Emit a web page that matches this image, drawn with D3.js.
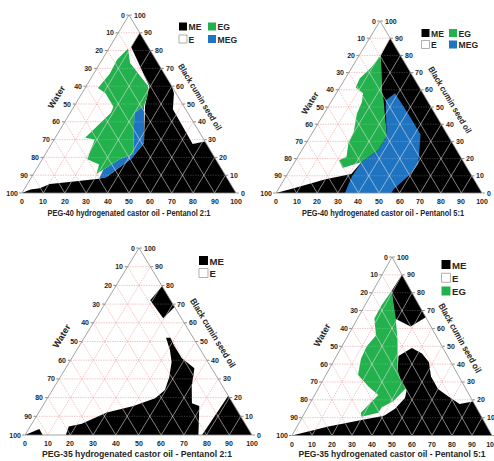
<!DOCTYPE html>
<html>
<head>
<meta charset="utf-8">
<script src="https://cdn.jsdelivr.net/npm/d3@7"></script>
<style>
  body { margin: 0; background: #fff; }
  svg { display: block; font-family: "Liberation Sans", Arial, sans-serif; }
</style>
</head>
<body>
<svg id="chart" width="494" height="461"></svg>
<script>
// every composition is [surfactant mix %, oil %]; water is whatever is left
const ticks = d3.range(0, 101, 10)
const gridSteps = d3.range(10, 100, 10)

const bottomTitles = [
  "PEG-40 hydrogenated castor oil - Pentanol 2:1",
  "PEG-40 hydrogenated castor oil - Pentanol 5:1",
  "PEG-35 hydrogenated castor oil - Pentanol 2:1",
  "PEG-35 hydrogenated castor oil - Pentanol 5:1"
]
const waterTitle = "Water"
const oilTitle = "Black cumin seed oil"

const legend1 = ["ME", "E", "EG", "MEG"]
const legend2 = ["ME", "E", "EG", "MEG"]
const legend3 = ["ME", "E"]
const legend4 = ["ME", "E", "EG"]

// panel 1 : PEG-40, 2:1
const p1ME = [[
  [0, 0], [100, 0], [71, 29], [66, 27.5], [47, 47], [43, 56], [40, 60], [10, 90],
  [10, 82], [29.5, 60], [33, 49], [43, 28], [41.5, 19.5], [35, 9], [32, 8],
  [18, 6], [10.5, 5], [7, 2.6], [3, 2]
]]
const p1MEG = [[
  [32.5, 49], [30, 45], [41, 22], [36, 19], [31.5, 13], [32, 8], [35, 9],
  [41.5, 19.5], [43, 28]
]]
const p1EG = [[
  [9, 81], [14, 73], [29, 60], [31.5, 54], [32.5, 49], [30, 45], [41, 22],
  [36, 19], [31.5, 13], [29.5, 10.7], [28, 16], [21, 19], [19, 30], [14, 31],
  [19, 45], [18.5, 48.5], [11, 56], [6, 59], [7.5, 67], [7, 75]
]]

// panel 2 : PEG-40, 5:1
const p2ME = [[
  [0, 0], [100, 0], [10, 90], [10.5, 80], [21, 60], [37, 33], [32.5, 18],
  [31, 11], [20, 8], [8, 3]
]]
const p2MEG = [[
  [26, 54], [28.5, 58], [43, 44], [53, 34], [60.5, 17], [60, 11.6], [56, 2],
  [56, 0], [33.5, 0], [32.7, 4.8], [32, 9.7], [32.5, 18], [37, 25], [37, 33]
]]
const p2EG = [[
  [10.5, 80], [21, 60], [25, 54], [37, 33], [37, 25], [32.5, 18], [25, 14.5],
  [21, 19], [23.6, 21], [20.5, 29], [20, 35], [16, 46], [15, 53], [13, 58],
  [7.7, 61.4], [7, 66.6], [9.4, 73]
]]

// panel 3 : PEG-35, 2:1
const p3ME = [
  [[20.5, 79.5], [19, 72], [29.5, 62.5], [31.5, 68.5]],
  [[18, 0], [17, 4.5], [22, 6], [30, 12], [40, 15.5], [47.5, 19.6], [49.6, 24],
   [48, 31], [45, 39], [41, 45.5], [36, 52], [38, 52], [41.5, 48], [48.5, 41],
   [56.7, 35.7], [60.4, 26], [65, 17], [69, 15.5], [76.4, 0]],
  [[78, 0], [79, 21], [100, 0]],
  [[0, 0], [4.7, 3.2], [7.8, 0]]
]

// panel 4 : PEG-35, 5:1
const p4ME = [
  [[10, 90], [9.3, 81], [18.7, 65.5], [28.8, 61], [33.8, 66.2]],
  [[0, 0], [100, 0], [81, 19], [75, 17.6], [67, 22], [60, 26], [53, 33], [48, 41],
   [42, 46], [35.4, 49], [31, 44.5], [34.5, 36.7], [38, 31], [44.6, 25.5],
   [46, 21], [44, 15], [40.5, 11], [30.5, 8.7], [15.7, 5]]
]
const p4EG = [[
  [9.3, 81], [18.5, 66.6], [26, 53.5], [34.5, 36.7], [39.7, 30], [43.6, 26.4],
  [41, 19], [37, 15.8], [36.8, 12.8], [29.5, 10.5], [28, 12.8], [31.8, 22.7],
  [24.5, 27.4], [16, 34], [13, 43], [12.4, 50], [14, 56], [8.4, 65.6], [8.3, 73]
]]

const colors = { ME: "#000000", E: "#ffffff", EG: "#22b14c", MEG: "#1f74c1" }

// where each triangle sits on the page
const boxes = [
  { L: [22, 193], R: [236, 193], A: [129, 15],
    titleAt: [129, 215.5], titleLen: 163, titleSize: 8.5,
    waterAt: [56.5, 97], oilAt: [200, 97], waterLen: 25, oilLen: 76,
    legend: { x: 179, y: 22.5, size: 8, col: 29, row: 12.5, rows: 2 } },
  { L: [276, 193], R: [482, 193], A: [380, 21],
    titleAt: [383, 216], titleLen: 162, titleSize: 8.5,
    waterAt: [310, 103], oilAt: [450, 100], waterLen: 25, oilLen: 76,
    legend: { x: 421.5, y: 29, size: 8, col: 27.5, row: 11.5, rows: 2 } },
  { L: [25, 435], R: [252, 435], A: [139, 248],
    titleAt: [137, 457], titleLen: 190, titleSize: 9,
    waterAt: [61.5, 336], oilAt: [213, 333], waterLen: 26, oilLen: 79,
    legend: { x: 199, y: 256, size: 9, col: 0, row: 12.5, rows: 2 } },
  { L: [292, 435.5], R: [492, 435.5], A: [392, 257],
    titleAt: [392, 457], titleLen: 187, titleSize: 9,
    waterAt: [322, 335], oilAt: [460, 338], waterLen: 25, oilLen: 78,
    legend: { x: 441.5, y: 260, size: 9, col: 0, row: 13.3, rows: 3 } }
]

const panels = [
  { box: boxes[0], title: bottomTitles[0], legend: legend1, regions: { ME: p1ME, MEG: p1MEG, EG: p1EG } },
  { box: boxes[1], title: bottomTitles[1], legend: legend2, regions: { ME: p2ME, MEG: p2MEG, EG: p2EG } },
  { box: boxes[2], title: bottomTitles[2], legend: legend3, regions: { ME: p3ME } },
  { box: boxes[3], title: bottomTitles[3], legend: legend4, regions: { ME: p4ME, EG: p4EG } }
]

// tiny rotation keeps the small labels on grey antialiasing
const svg = d3.select("#chart").append("g").attr("transform", "rotate(0.001)")
const closed = d3.line().curve(d3.curveLinearClosed)
const textColor = "#262626"

panels.forEach((p, i) => {
  const { L, R, A } = p.box
  // ternary position: surfactant runs along the base, oil climbs to the apex
  const sx = d3.scaleLinear().domain([0, 100]).range([0, R[0] - L[0]])
  const ox = d3.scaleLinear().domain([0, 100]).range([0, A[0] - L[0]])
  const oy = d3.scaleLinear().domain([0, 100]).range([L[1], A[1]])
  const pt = (s, o) => [L[0] + sx(s) + ox(o), oy(o)]

  const g = svg.append("g")

  const gridLines = []
  gridSteps.forEach(k => {
    gridLines.push({ a: pt(0, k), b: pt(100 - k, k), flat: true })
    gridLines.push({ a: pt(100 - k, 0), b: pt(0, 100 - k), flat: false })
    gridLines.push({ a: pt(k, 0), b: pt(k, 100 - k), flat: false })
  })

  const drawLines = (parent) => parent.selectAll("line").data(gridLines).join("line")
    .attr("x1", d => d.a[0]).attr("y1", d => d.a[1])
    .attr("x2", d => d.b[0]).attr("y2", d => d.b[1])

  // pink dotted grid on the white part
  drawLines(g.append("g"))
    .attr("stroke", "#f0a3a3")
    .attr("stroke-width", 0.7)
    .attr("stroke-dasharray", "1.4,1.1")

  // phase regions
  const shapes = ["ME", "MEG", "EG"].flatMap(k =>
    (p.regions[k] || []).map(poly => ({ k, poly })))
  const shapePath = d => closed(d.poly.map(c => pt(c[0], c[1])))

  const clipId = "phase" + i
  g.append("clipPath").attr("id", clipId)
    .selectAll("path").data(shapes).join("path").attr("d", shapePath)

  g.append("g").selectAll("path").data(shapes).join("path")
    .attr("d", shapePath)
    .attr("fill", d => colors[d.k])

  // grid seen through the coloured regions
  drawLines(g.append("g").attr("clip-path", `url(#${clipId})`))
    .attr("stroke", d => d.flat ? "rgba(255,255,255,0.3)" : "rgba(236,228,228,0.8)")
    .attr("stroke-width", 0.7)
    .attr("stroke-dasharray", d => d.flat ? "1.4,1.1" : null)

  // frame
  g.append("path")
    .attr("d", closed([pt(0, 0), pt(100, 0), pt(0, 100)]))
    .attr("fill", "none")
    .attr("stroke", "#8c8c8c")
    .attr("stroke-width", 0.8)

  const labels = g.append("g")
    .attr("font-size", 7)
    .attr("font-weight", "bold")
    .attr("fill", textColor)

  // base: surfactant mix
  labels.selectAll(".tb").data(ticks).join("text").attr("class", "tb")
    .attr("x", d => Math.round(pt(d, 0)[0]))
    .attr("y", d => Math.round(pt(d, 0)[1] + 11))
    .attr("text-anchor", "middle")
    .text(d => d)

  // left side: water
  labels.selectAll(".tl").data(ticks).join("text").attr("class", "tl")
    .attr("x", d => Math.round(pt(0, 100 - d)[0] - 4.5))
    .attr("y", d => Math.round(pt(0, 100 - d)[1] + 2.5))
    .attr("text-anchor", "end")
    .text(d => d)
  g.append("g").selectAll("line").data(ticks).join("line")
    .attr("x1", d => pt(0, 100 - d)[0] - 2.8).attr("x2", d => pt(0, 100 - d)[0] - 0.5)
    .attr("y1", d => pt(0, 100 - d)[1]).attr("y2", d => pt(0, 100 - d)[1])
    .attr("stroke", "#555").attr("stroke-width", 0.7)

  // right side: oil
  labels.selectAll(".tr").data(ticks).join("text").attr("class", "tr")
    .attr("x", d => Math.round(pt(100 - d, d)[0] + 4.5))
    .attr("y", d => Math.round(pt(100 - d, d)[1] + 2.5))
    .attr("text-anchor", "start")
    .text(d => d)
  g.append("g").selectAll("line").data(ticks).join("line")
    .attr("x1", d => pt(100 - d, d)[0] + 0.5).attr("x2", d => pt(100 - d, d)[0] + 2.8)
    .attr("y1", d => pt(100 - d, d)[1]).attr("y2", d => pt(100 - d, d)[1])
    .attr("stroke", "#555").attr("stroke-width", 0.7)

  // axis titles
  const b = p.box
  const leftAngle = Math.atan2(A[1] - L[1], A[0] - L[0]) * 180 / Math.PI
  const rightAngle = Math.atan2(R[1] - A[1], R[0] - A[0]) * 180 / Math.PI
  const titles = g.append("g").attr("font-weight", "bold").attr("fill", textColor)

  titles.append("text")
    .attr("x", b.titleAt[0]).attr("y", b.titleAt[1])
    .attr("text-anchor", "middle")
    .attr("font-size", b.titleSize)
    .attr("textLength", b.titleLen)
    .attr("lengthAdjust", "spacingAndGlyphs")
    .text(p.title)

  titles.append("text")
    .attr("transform", `translate(${b.waterAt[0]},${b.waterAt[1]}) rotate(${leftAngle})`)
    .attr("text-anchor", "middle").attr("dy", "0.35em")
    .attr("font-size", b.titleSize)
    .attr("textLength", b.waterLen)
    .attr("lengthAdjust", "spacingAndGlyphs")
    .text(waterTitle)

  titles.append("text")
    .attr("transform", `translate(${b.oilAt[0]},${b.oilAt[1]}) rotate(${rightAngle})`)
    .attr("text-anchor", "middle").attr("dy", "0.35em")
    .attr("font-size", b.titleSize)
    .attr("textLength", b.oilLen)
    .attr("lengthAdjust", "spacingAndGlyphs")
    .text(oilTitle)

  // legend
  const lg = b.legend
  const items = g.append("g").selectAll("g").data(p.legend).join("g")
    .attr("transform", (d, j) =>
      `translate(${lg.x + Math.floor(j / lg.rows) * lg.col},${lg.y + (j % lg.rows) * lg.row})`)
  items.append("rect")
    .attr("width", lg.size).attr("height", lg.size)
    .attr("fill", d => colors[d])
    .attr("stroke", d => d === "E" ? "#9a9a9a" : "none")
    .attr("stroke-width", 0.8)
  items.append("text")
    .attr("x", lg.size + 1.5).attr("y", lg.size - 0.3)
    .attr("font-size", lg.size + 0.6)
    .attr("font-weight", "bold")
    .attr("fill", textColor)
    .text(d => d)
})
</script>
</body>
</html>
